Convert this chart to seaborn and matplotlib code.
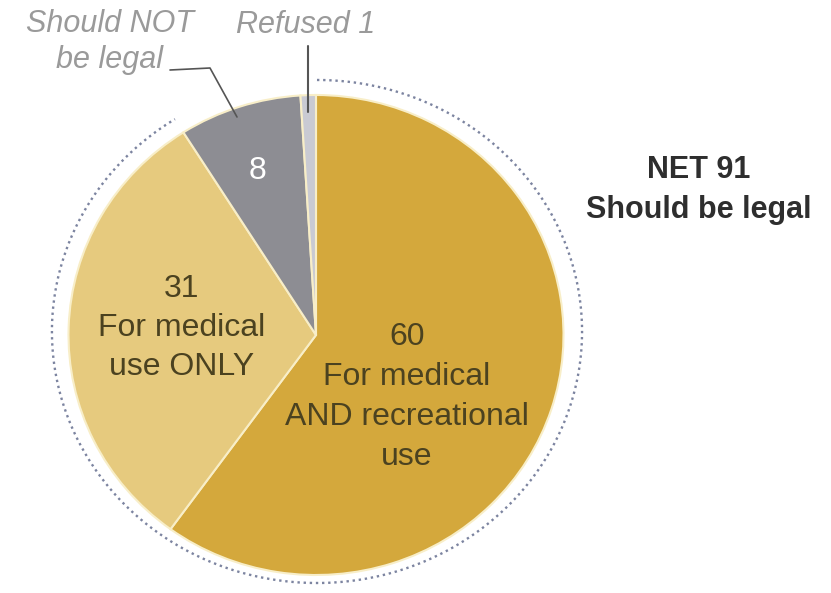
import numpy as np
import matplotlib
matplotlib.use("Agg")
import matplotlib.pyplot as plt
import seaborn as sns

# ---- data ----
categories = ["For medical AND recreational use", "For medical use ONLY",
              "Should NOT be legal", "Refused"]
values = [60, 31, 8, 1]
colors = ["#D4A83C", "#E6CA7E", "#8D8D93", "#C9CAD3"]
net_label = "NET 91\nShould be legal"
inner_labels = ["60\nFor medical\nAND recreational\nuse", "31\nFor medical\nuse ONLY", "8"]

sns.set_theme(style="white")
plt.rcParams['font.family'] = ['Liberation Sans', 'DejaVu Sans']

W, H = 831, 593
fig = plt.figure(figsize=(W / 100, H / 100), dpi=100)
fig.patch.set_facecolor("white")

# pie axes placed on pixel geometry of the reference
cx, cy, rx, ry = 316, 335, 247.5, 240
ax = fig.add_axes([(cx - rx) / W, 1 - (cy + ry) / H, 2 * rx / W, 2 * ry / H])
ax.pie(values, colors=colors, startangle=90, counterclock=False, radius=1,
       wedgeprops=dict(edgecolor="#F8EEC8", linewidth=1.5))
ax.set_xlim(-1, 1)
ax.set_ylim(-1, 1)
ax.set_aspect("auto")
ax.axis("off")

# dotted arc around the NET share
net = sum(values[:2])
total = sum(values)
theta = np.deg2rad(np.linspace(90, 90 - 360 * net / total, 400))
ax.plot(0.004 + 1.071 * np.cos(theta), 0.0146 + 1.048 * np.sin(theta),
        linestyle=(0, (1, 1.6)), linewidth=1.7, color="#7C84A0",
        clip_on=False, solid_capstyle="round")
sns.despine(ax=ax, left=True, bottom=True)

# overlay in pixel coordinates for labels
ov = fig.add_axes([0, 0, 1, 1])
ov.set_xlim(0, W)
ov.set_ylim(H, 0)
ov.axis("off")
ov.patch.set_alpha(0)

inner_color = "#4B4220"
ov.text(407, 397, inner_labels[0], ha="center", va="center", fontsize=23,
        color=inner_color, linespacing=1.44)
ov.text(182, 328, inner_labels[1], ha="center", va="center", fontsize=23,
        color=inner_color, linespacing=1.40)
ov.text(257, 171, inner_labels[2], ha="center", va="center", fontsize=23,
        color="white")
ov.text(699, 190, net_label, ha="center", va="center", fontsize=22,
        color="#2E2E2E", fontweight="bold", linespacing=1.45)

gray_txt = "#9A9A9A"
ov.text(110, 42, "Should NOT\nbe legal", ha="center", va="center", fontsize=22,
        color=gray_txt, style="italic", linespacing=1.25)
ov.text(306, 25, "Refused 1", ha="center", va="center", fontsize=22,
        color=gray_txt, style="italic")

ov.plot([170, 210, 237], [70, 68, 117], color="#555555", linewidth=1.2)
ov.plot([308, 308], [46, 112], color="#555555", linewidth=1.5)

fig.savefig("out.png", dpi=100, facecolor="white")
